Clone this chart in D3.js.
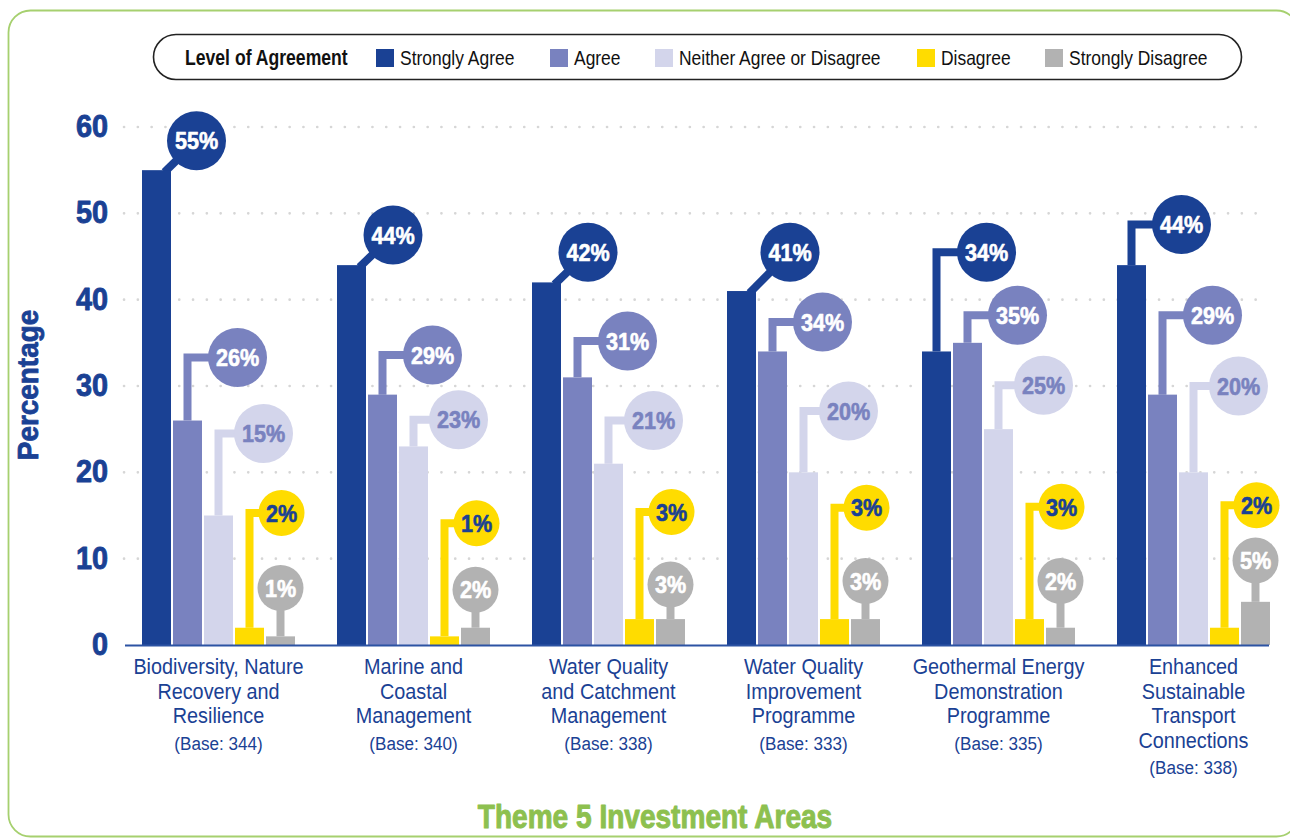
<!DOCTYPE html>
<html>
<head>
<meta charset="utf-8">
<script src="https://cdn.jsdelivr.net/npm/d3@7/dist/d3.min.js"></script>
<style>
  body { margin: 0; background: #fff; }
  svg { display: block; font-family: "Liberation Sans", Arial, sans-serif; }
</style>
</head>
<body>
<div id="chart"></div>
<script>
// categories (lines of each x label) and survey bases
var categories = ["Biodiversity", "Marine", "Catchment", "Improvement", "Geothermal", "Transport"];
var catLines = [
  ["Biodiversity, Nature", "Recovery and", "Resilience"],
  ["Marine and", "Coastal", "Management"],
  ["Water Quality", "and Catchment", "Management"],
  ["Water Quality", "Improvement", "Programme"],
  ["Geothermal Energy", "Demonstration", "Programme"],
  ["Enhanced", "Sustainable", "Transport", "Connections"]
];
var bases = [344, 340, 338, 333, 335, 338];

// series
var seriesNames = ["Strongly Agree", "Agree", "Neither Agree or Disagree", "Disagree", "Strongly Disagree"];
var stronglyAgree    = [55, 44, 42, 41, 34, 44];
var agree            = [26, 29, 31, 34, 35, 29];
var neither          = [15, 23, 21, 20, 25, 20];
var disagree         = [2, 1, 3, 3, 3, 2];
var stronglyDisagree = [1, 2, 3, 3, 2, 5];

var yTicks = [0, 10, 20, 30, 40, 50, 60];

// where each callout bubble sits (in percentage units)
var bubbleSA = [58.4, 47.5, 45.5, 45.5, 45.5, 48.7];
var bubbleA  = [33.3, 33.6, 35.2, 37.4, 38.2, 38.2];
var bubbleN  = [24.5, 26.1, 26.0, 27.1, 30.1, 30.0];
var bubbleD  = [15.3, 14.1, 15.4, 15.9, 16.0, 16.2];
var bubbleSD = [6.6, 6.4, 7.0, 7.4, 7.4, 9.8];
var saShift  = [40, 41.5, 41.5, 48.5, 50, 50];     // bubble x offset for strongly agree
var saDiagonal = [true, true, true, true, false, false];

var colors = ["#1a4194", "#7982bf", "#d3d5eb", "#ffdc00", "#b2b2b2"];
var textColors = ["#fff", "#fff", "#7982bf", "#1a4194", "#fff"];
var shifts = [null, 50, 45, 32, 0];

var values = [stronglyAgree, agree, neither, disagree, stronglyDisagree];
var bubbles = [bubbleSA, bubbleA, bubbleN, bubbleD, bubbleSD];

var W = 1290, H = 839;
var svg = d3.select("#chart").append("svg").attr("width", W).attr("height", H);

// the original uses a condensed face: squeeze glyphs horizontally
function condense(sel, f) {
  sel.each(function(){
    var len = this.getComputedTextLength();
    d3.select(this).attr("textLength", len * f).attr("lengthAdjust", "spacingAndGlyphs");
  });
}
// heavier look for the black-weight texts
function heavy(sel, w) {
  sel.attr("stroke", function(){ return d3.select(this).attr("fill"); })
    .attr("stroke-width", w).attr("stroke-linejoin", "round");
}

// green frame
svg.append("rect").attr("x", 8.5).attr("y", 10.5).attr("width", 1290).attr("height", 826)
  .attr("rx", 22).attr("fill", "none").attr("stroke", "#a6d06f").attr("stroke-width", 1.8);

// scales
var x0 = d3.scaleBand().domain(categories).range([142, 1270]).paddingInner(42 / 195).paddingOuter(0);
var x1 = d3.scaleBand().domain(seriesNames).range([0, x0.bandwidth()]).paddingInner(2 / 31);
var y = d3.scaleLinear().domain([0, 60]).range([645, 127]);

// grid
svg.append("g").selectAll("line").data(yTicks.slice(1)).enter().append("line")
  .attr("x1", 124).attr("x2", 1266)
  .attr("y1", function(d){ return y(d); }).attr("y2", function(d){ return y(d); })
  .attr("stroke", "#d6d6d6").attr("stroke-width", 2.6)
  .attr("stroke-linecap", "round").attr("stroke-dasharray", "0.1 13.7");

// y axis
var yAxis = d3.axisLeft(y).tickValues(yTicks).tickSize(0).tickPadding(17);
var gy = svg.append("g").attr("transform", "translate(125,0)").call(yAxis);
gy.select(".domain").remove();
gy.selectAll("text").attr("fill", "#1a4194").style("font-size", "32px").style("font-weight", "bold")
  .style("font-family", "Liberation Sans").attr("dy", "0.3em");
condense(gy.selectAll("text"), 0.9);
heavy(gy.selectAll("text"), 0.9);

var yTitle = svg.append("text").attr("transform", "translate(38,385) rotate(-90)")
  .attr("text-anchor", "middle").attr("fill", "#1a4194")
  .style("font-size", "30px").style("font-weight", "bold").text("Percentage");
condense(yTitle, 0.93);
heavy(yTitle, 0.8);

// one flat list of bar records
var recs = [];
categories.forEach(function(c, i){
  seriesNames.forEach(function(s, j){
    recs.push({cat: c, i: i, s: s, j: j, v: values[j][i], at: bubbles[j][i]});
  });
});
function cx(d){ return x0(d.cat) + x1(d.s) + x1.bandwidth() / 2; }
function bx(d){
  if (d.j === 0) return cx(d) + saShift[d.i];
  return cx(d) + shifts[d.j];
}

// connectors
var links = svg.append("g");
recs.forEach(function(d){
  var p;
  if (d.j === 0 && saDiagonal[d.i]) {
    p = "M" + (cx(d) + 8) + "," + (y(d.v) + 2) + "L" + bx(d) + "," + y(d.at);
  } else if (d.j === 4) {
    p = "M" + cx(d) + "," + y(d.v) + "V" + y(d.at);
  } else {
    p = "M" + cx(d) + "," + y(d.v) + "V" + y(d.at) + "H" + bx(d);
  }
  links.append("path").attr("d", p).attr("fill", "none")
    .attr("stroke", colors[d.j]).attr("stroke-width", 8);
});

// bars
svg.append("g").selectAll("rect").data(recs).enter().append("rect")
  .attr("x", function(d){ return x0(d.cat) + x1(d.s); })
  .attr("y", function(d){ return y(d.v); })
  .attr("width", x1.bandwidth())
  .attr("height", function(d){ return y(0) - y(d.v); })
  .attr("fill", function(d){ return colors[d.j]; });

// baseline
svg.append("line").attr("x1", 125).attr("x2", 1269).attr("y1", 645.5).attr("y2", 645.5)
  .attr("stroke", "#2c53a3").attr("stroke-width", 2);

// bubbles
var bub = svg.append("g").selectAll("g").data(recs).enter().append("g")
  .attr("transform", function(d){ return "translate(" + bx(d) + "," + y(d.at) + ")"; });
bub.append("circle").attr("r", function(d){ return d.v >= 10 ? 29.5 : 23; })
  .attr("fill", function(d){ return colors[d.j]; });
var bt = bub.append("text").attr("text-anchor", "middle").attr("dy", "0.36em")
  .attr("fill", function(d){ return textColors[d.j]; })
  .style("font-size", "24px").style("font-weight", "bold")
  .text(function(d){ return d.v + "%"; });
condense(bt, 0.9);
heavy(bt, 0.6);

// x labels
var xl = svg.append("g");
categories.forEach(function(c, i){
  var cxg = x0(c) + x0.bandwidth() / 2;
  catLines[i].forEach(function(line, k){
    var t = xl.append("text").attr("x", cxg).attr("y", 674 + k * 24.5)
      .attr("text-anchor", "middle").attr("fill", "#1a4194")
      .style("font-size", "22px").text(line);
    condense(t, 0.9);
  });
  var b = xl.append("text").attr("x", cxg).attr("y", 676 + catLines[i].length * 24.5)
    .attr("text-anchor", "middle").attr("fill", "#1a4194")
    .style("font-size", "18px").text("(Base: " + bases[i] + ")");
  condense(b, 0.95);
});

// legend
var lg = svg.append("g");
lg.append("rect").attr("x", 153.5).attr("y", 34.5).attr("width", 1088).attr("height", 45)
  .attr("rx", 22.5).attr("fill", "#fff").attr("stroke", "#222").attr("stroke-width", 1.6);
var lt = lg.append("text").attr("x", 185).attr("y", 65).attr("fill", "#111")
  .style("font-size", "22px").style("font-weight", "bold").text("Level of Agreement");
condense(lt, 0.8);
var legX = [376, 550, 655, 917, 1045];
seriesNames.forEach(function(s, j){
  lg.append("rect").attr("x", legX[j]).attr("y", 49).attr("width", 18).attr("height", 18).attr("fill", colors[j]);
  var t = lg.append("text").attr("x", legX[j] + 24).attr("y", 65).attr("fill", "#111")
    .style("font-size", "21px").text(s);
  condense(t, 0.83);
});

// title
var title = svg.append("text").attr("x", 655).attr("y", 828).attr("text-anchor", "middle")
  .attr("fill", "#8dc04f").style("font-size", "33px").style("font-weight", "bold")
  .text("Theme 5 Investment Areas");
condense(title, 0.85);
heavy(title, 1);
</script>
</body>
</html>
